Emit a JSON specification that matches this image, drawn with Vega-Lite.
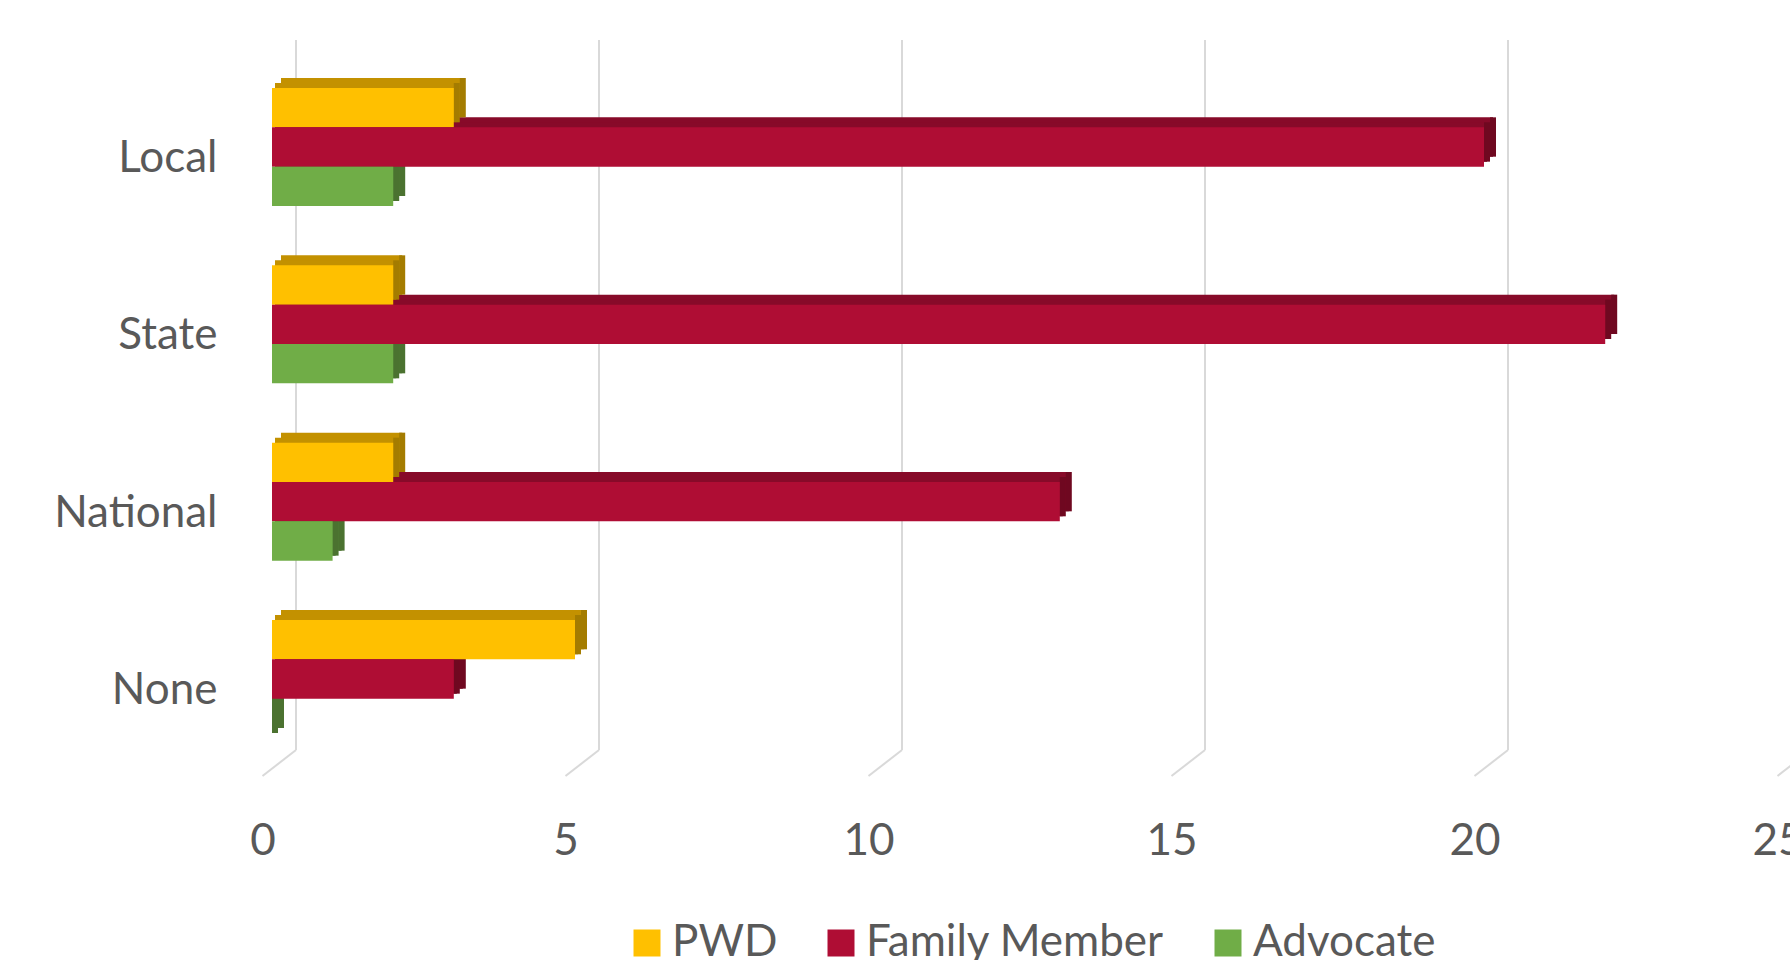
{
  "$schema": "https://vega.github.io/schema/vega-lite/v6.json",
  "width": 1515,
  "height": 736,
  "autosize": {"type": "none"},
  "padding": {"left": 272, "top": 40, "right": 3, "bottom": 184},
  "background": "#FFFFFF",
  "config": {
    "view": {"stroke": null},
    "font": "Lato",
    "axisX": {"tickCount": 5, "grid": false, "domain": false, "ticks": false, "labelFontSize": 44, "labelFont": "Lato", "labelColor": "#595959", "labelOffset": -9.5, "labelPadding": 65, "labelBaseline": "middle", "labelFlush": false, "labelOverlap": false},
    "axisY": {"grid": false, "domain": false, "ticks": false, "labelFontSize": 44, "labelFont": "Lato", "labelColor": "#595959", "labelPadding": 55, "labelOffset": 12}
  },
  "datasets": {
    "bars": [
      {"level": "Local", "series": "PWD", "value": 3},
      {"level": "Local", "series": "Family Member", "value": 20},
      {"level": "Local", "series": "Advocate", "value": 2},
      {"level": "State", "series": "PWD", "value": 2},
      {"level": "State", "series": "Family Member", "value": 22},
      {"level": "State", "series": "Advocate", "value": 2},
      {"level": "National", "series": "PWD", "value": 2},
      {"level": "National", "series": "Family Member", "value": 13},
      {"level": "National", "series": "Advocate", "value": 1},
      {"level": "None", "series": "PWD", "value": 5},
      {"level": "None", "series": "Family Member", "value": 3},
      {"level": "None", "series": "Advocate", "value": 0}
    ],
    "grid": [{"v": 0}, {"v": 5}, {"v": 10}, {"v": 15}, {"v": 20}, {"v": 25}]
  },
  "layer": [
    {
      "data": {"name": "grid"},
      "layer": [
        {
          "mark": {"type": "rule", "color": "#D9D9D9", "strokeWidth": 2, "xOffset": 24, "x2Offset": 24, "yOffset": -26},
          "encoding": {
            "x": {"field": "v", "type": "quantitative", "scale": {"domain": [0, 25], "nice": false}, "axis": {"title": null}},
            "x2": {"field": "v"},
            "y": {"datum": 0, "type": "quantitative", "scale": {"domain": [0, 1]}, "axis": null},
            "y2": {"datum": 1}
          }
        },
        {
          "mark": {"type": "rule", "color": "#D9D9D9", "strokeWidth": 2, "xOffset": -9.5, "x2Offset": 24, "y2Offset": -26},
          "encoding": {
            "x": {"field": "v", "type": "quantitative", "scale": {"domain": [0, 25], "nice": false}, "axis": {"title": null}},
            "x2": {"field": "v"},
            "y": {"datum": 0, "type": "quantitative", "scale": {"domain": [0, 1]}, "axis": null},
            "y2": {"datum": 0}
          }
        }
      ]
    },
    {
      "data": {"name": "bars"},
      "encoding": {
        "y": {"field": "level", "type": "nominal", "scale": {"domain": ["Local", "State", "National", "None"], "range": [48, 698], "paddingInner": 0.3345, "paddingOuter": 0}, "axis": {"title": null}},
        "x": {"field": "value", "type": "quantitative", "scale": {"domain": [0, 25], "nice": false}, "axis": {"title": null}}
      },
      "layer": [
        {
          "mark": {"type": "bar", "xOffset": 9, "x2Offset": 9},
          "encoding": {
            "x2": {"datum": 0},
            "yOffset": {"field": "series", "type": "nominal", "scale": {"domain": ["PWD", "Family Member", "Advocate"], "range": [-10, 108], "paddingInner": 0, "paddingOuter": 0}},
            "color": {"condition": [{"test": "datum.series === 'PWD'", "value": "#C39100"}, {"test": "datum.series === 'Family Member'", "value": "#870A29"}], "value": "#56853A"}
          }
        },
        {
          "mark": {"type": "bar", "xOffset": 3, "x2Offset": 3},
          "encoding": {
            "x2": {"datum": 0},
            "yOffset": {"field": "series", "type": "nominal", "scale": {"domain": ["PWD", "Family Member", "Advocate"], "range": [-5, 113], "paddingInner": 0, "paddingOuter": 0}},
            "color": {"condition": [{"test": "datum.series === 'PWD'", "value": "#C39100"}, {"test": "datum.series === 'Family Member'", "value": "#870A29"}], "value": "#56853A"}
          }
        },
        {
          "mark": {"type": "bar", "xOffset": 6, "x2Offset": 12},
          "encoding": {
            "x2": {"field": "value"},
            "yOffset": {"field": "series", "type": "nominal", "scale": {"domain": ["PWD", "Family Member", "Advocate"], "range": [-10, 108], "paddingInner": 0, "paddingOuter": 0}},
            "color": {"condition": [{"test": "datum.series === 'PWD'", "value": "#A47C00"}, {"test": "datum.series === 'Family Member'", "value": "#6F0820"}], "value": "#4B7230"}
          }
        },
        {
          "mark": {"type": "bar", "xOffset": 0, "x2Offset": 6},
          "encoding": {
            "x2": {"field": "value"},
            "yOffset": {"field": "series", "type": "nominal", "scale": {"domain": ["PWD", "Family Member", "Advocate"], "range": [-5, 113], "paddingInner": 0, "paddingOuter": 0}},
            "color": {"condition": [{"test": "datum.series === 'PWD'", "value": "#A47C00"}, {"test": "datum.series === 'Family Member'", "value": "#6F0820"}], "value": "#4B7230"}
          }
        },
        {
          "mark": {"type": "bar"},
          "encoding": {
            "yOffset": {"field": "series", "type": "nominal", "scale": {"domain": ["PWD", "Family Member", "Advocate"], "range": [0, 118], "paddingInner": 0, "paddingOuter": 0}},
            "color": {"field": "series", "type": "nominal", "scale": {"domain": ["PWD", "Family Member", "Advocate"], "range": ["#FFC000", "#AF0D34", "#70AD47"]},
              "legend": {"orient": "none", "legendX": 353, "legendY": 881, "direction": "horizontal", "title": null, "symbolType": "square", "symbolSize": 729, "symbolStrokeWidth": 0, "symbolOpacity": 1, "labelFontSize": 44, "labelFont": "Lato", "labelColor": "#595959", "labelOffset": 3, "columnPadding": 41, "labelLimit": 600}}
          }
        }
      ],
      "resolve": {"scale": {"yOffset": "independent"}}
    }
  ],
  "resolve": {"scale": {"y": "independent"}}
}
